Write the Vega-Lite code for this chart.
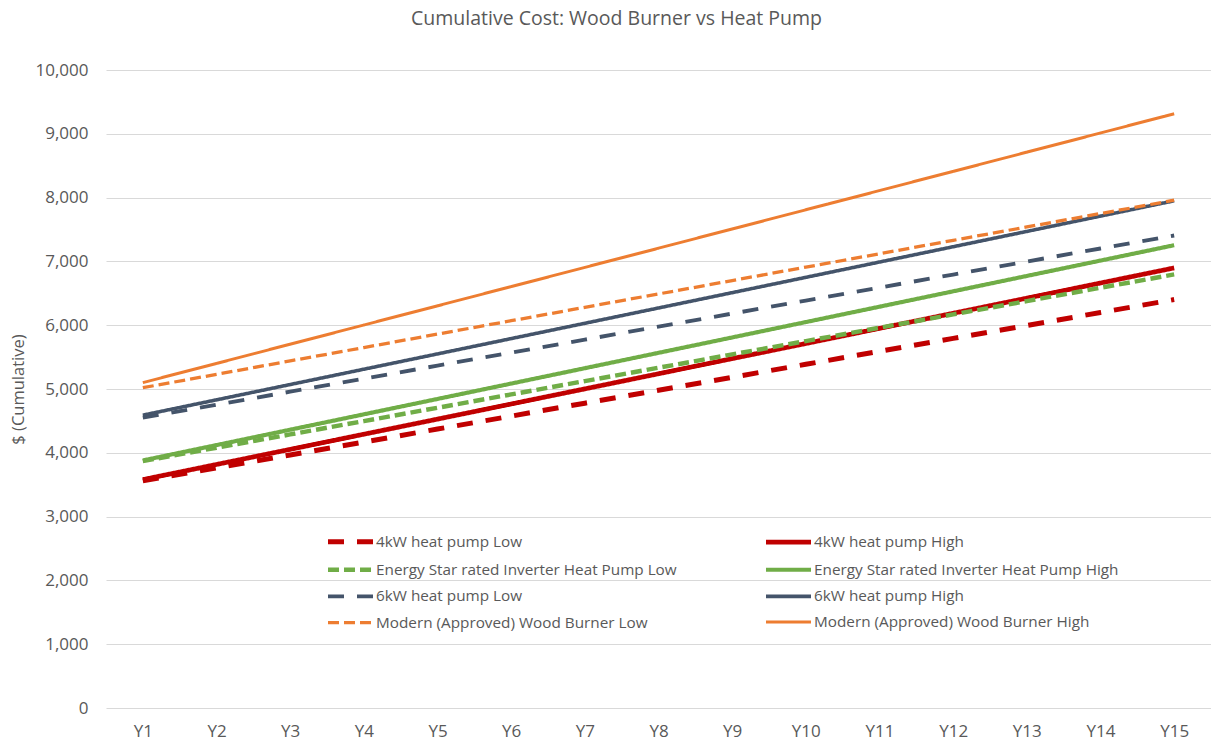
{
  "$schema": "https://vega.github.io/schema/vega-lite/v6.json",
  "autosize": {"type": "none"},
  "width": 1105,
  "height": 638,
  "padding": {"left": 106, "top": 70, "right": 0, "bottom": 38},
  "background": "#FFFFFF",
  "title": {
    "text": "Cumulative Cost: Wood Burner vs Heat Pump",
    "font": "Open Sans",
    "fontSize": 19.5,
    "fontWeight": "normal",
    "color": "#595959",
    "anchor": "middle",
    "baseline": "middle",
    "offset": 23,
    "dx": -42
  },
  "config": {
    "view": {"stroke": null},
    "axis": {
      "labelFont": "Open Sans",
      "labelFontSize": 17,
      "labelColor": "#595959",
      "titleFont": "Open Sans",
      "titleFontSize": 16.5,
      "titleFontWeight": "normal",
      "titleColor": "#595959",
      "domain": false,
      "ticks": false
    },
    "legend": {
      "labelFont": "Open Sans",
      "labelFontSize": 15.3,
      "labelColor": "#595959"
    }
  },
  "data": {
    "values": [
      {"s": "4kW heat pump  Low", "y": "Y1", "v": 3560},
      {"s": "4kW heat pump  Low", "y": "Y2", "v": 3763},
      {"s": "4kW heat pump  Low", "y": "Y3", "v": 3966},
      {"s": "4kW heat pump  Low", "y": "Y4", "v": 4169},
      {"s": "4kW heat pump  Low", "y": "Y5", "v": 4372},
      {"s": "4kW heat pump  Low", "y": "Y6", "v": 4575},
      {"s": "4kW heat pump  Low", "y": "Y7", "v": 4778},
      {"s": "4kW heat pump  Low", "y": "Y8", "v": 4981},
      {"s": "4kW heat pump  Low", "y": "Y9", "v": 5184},
      {"s": "4kW heat pump  Low", "y": "Y10", "v": 5387},
      {"s": "4kW heat pump  Low", "y": "Y11", "v": 5590},
      {"s": "4kW heat pump  Low", "y": "Y12", "v": 5793},
      {"s": "4kW heat pump  Low", "y": "Y13", "v": 5996},
      {"s": "4kW heat pump  Low", "y": "Y14", "v": 6199},
      {"s": "4kW heat pump  Low", "y": "Y15", "v": 6402},
      {"s": "4kW heat pump  High", "y": "Y1", "v": 3580},
      {"s": "4kW heat pump  High", "y": "Y2", "v": 3817},
      {"s": "4kW heat pump  High", "y": "Y3", "v": 4054},
      {"s": "4kW heat pump  High", "y": "Y4", "v": 4291},
      {"s": "4kW heat pump  High", "y": "Y5", "v": 4528},
      {"s": "4kW heat pump  High", "y": "Y6", "v": 4765},
      {"s": "4kW heat pump  High", "y": "Y7", "v": 5002},
      {"s": "4kW heat pump  High", "y": "Y8", "v": 5239},
      {"s": "4kW heat pump  High", "y": "Y9", "v": 5476},
      {"s": "4kW heat pump  High", "y": "Y10", "v": 5713},
      {"s": "4kW heat pump  High", "y": "Y11", "v": 5950},
      {"s": "4kW heat pump  High", "y": "Y12", "v": 6187},
      {"s": "4kW heat pump  High", "y": "Y13", "v": 6424},
      {"s": "4kW heat pump  High", "y": "Y14", "v": 6661},
      {"s": "4kW heat pump  High", "y": "Y15", "v": 6898},
      {"s": "Energy Star rated Inverter Heat Pump Low", "y": "Y1", "v": 3870},
      {"s": "Energy Star rated Inverter Heat Pump Low", "y": "Y2", "v": 4079},
      {"s": "Energy Star rated Inverter Heat Pump Low", "y": "Y3", "v": 4288},
      {"s": "Energy Star rated Inverter Heat Pump Low", "y": "Y4", "v": 4497},
      {"s": "Energy Star rated Inverter Heat Pump Low", "y": "Y5", "v": 4706},
      {"s": "Energy Star rated Inverter Heat Pump Low", "y": "Y6", "v": 4915},
      {"s": "Energy Star rated Inverter Heat Pump Low", "y": "Y7", "v": 5124},
      {"s": "Energy Star rated Inverter Heat Pump Low", "y": "Y8", "v": 5333},
      {"s": "Energy Star rated Inverter Heat Pump Low", "y": "Y9", "v": 5542},
      {"s": "Energy Star rated Inverter Heat Pump Low", "y": "Y10", "v": 5751},
      {"s": "Energy Star rated Inverter Heat Pump Low", "y": "Y11", "v": 5960},
      {"s": "Energy Star rated Inverter Heat Pump Low", "y": "Y12", "v": 6169},
      {"s": "Energy Star rated Inverter Heat Pump Low", "y": "Y13", "v": 6378},
      {"s": "Energy Star rated Inverter Heat Pump Low", "y": "Y14", "v": 6587},
      {"s": "Energy Star rated Inverter Heat Pump Low", "y": "Y15", "v": 6796},
      {"s": "Energy Star rated Inverter Heat Pump High", "y": "Y1", "v": 3880},
      {"s": "Energy Star rated Inverter Heat Pump High", "y": "Y2", "v": 4121},
      {"s": "Energy Star rated Inverter Heat Pump High", "y": "Y3", "v": 4362},
      {"s": "Energy Star rated Inverter Heat Pump High", "y": "Y4", "v": 4603},
      {"s": "Energy Star rated Inverter Heat Pump High", "y": "Y5", "v": 4844},
      {"s": "Energy Star rated Inverter Heat Pump High", "y": "Y6", "v": 5085},
      {"s": "Energy Star rated Inverter Heat Pump High", "y": "Y7", "v": 5326},
      {"s": "Energy Star rated Inverter Heat Pump High", "y": "Y8", "v": 5567},
      {"s": "Energy Star rated Inverter Heat Pump High", "y": "Y9", "v": 5808},
      {"s": "Energy Star rated Inverter Heat Pump High", "y": "Y10", "v": 6049},
      {"s": "Energy Star rated Inverter Heat Pump High", "y": "Y11", "v": 6290},
      {"s": "Energy Star rated Inverter Heat Pump High", "y": "Y12", "v": 6531},
      {"s": "Energy Star rated Inverter Heat Pump High", "y": "Y13", "v": 6772},
      {"s": "Energy Star rated Inverter Heat Pump High", "y": "Y14", "v": 7013},
      {"s": "Energy Star rated Inverter Heat Pump High", "y": "Y15", "v": 7254},
      {"s": "6kW heat pump Low", "y": "Y1", "v": 4550},
      {"s": "6kW heat pump Low", "y": "Y2", "v": 4754},
      {"s": "6kW heat pump Low", "y": "Y3", "v": 4958},
      {"s": "6kW heat pump Low", "y": "Y4", "v": 5162},
      {"s": "6kW heat pump Low", "y": "Y5", "v": 5366},
      {"s": "6kW heat pump Low", "y": "Y6", "v": 5570},
      {"s": "6kW heat pump Low", "y": "Y7", "v": 5774},
      {"s": "6kW heat pump Low", "y": "Y8", "v": 5978},
      {"s": "6kW heat pump Low", "y": "Y9", "v": 6182},
      {"s": "6kW heat pump Low", "y": "Y10", "v": 6386},
      {"s": "6kW heat pump Low", "y": "Y11", "v": 6590},
      {"s": "6kW heat pump Low", "y": "Y12", "v": 6794},
      {"s": "6kW heat pump Low", "y": "Y13", "v": 6998},
      {"s": "6kW heat pump Low", "y": "Y14", "v": 7202},
      {"s": "6kW heat pump Low", "y": "Y15", "v": 7406},
      {"s": "6kW heat pump High", "y": "Y1", "v": 4590},
      {"s": "6kW heat pump High", "y": "Y2", "v": 4830},
      {"s": "6kW heat pump High", "y": "Y3", "v": 5070},
      {"s": "6kW heat pump High", "y": "Y4", "v": 5310},
      {"s": "6kW heat pump High", "y": "Y5", "v": 5550},
      {"s": "6kW heat pump High", "y": "Y6", "v": 5790},
      {"s": "6kW heat pump High", "y": "Y7", "v": 6030},
      {"s": "6kW heat pump High", "y": "Y8", "v": 6270},
      {"s": "6kW heat pump High", "y": "Y9", "v": 6510},
      {"s": "6kW heat pump High", "y": "Y10", "v": 6750},
      {"s": "6kW heat pump High", "y": "Y11", "v": 6990},
      {"s": "6kW heat pump High", "y": "Y12", "v": 7230},
      {"s": "6kW heat pump High", "y": "Y13", "v": 7470},
      {"s": "6kW heat pump High", "y": "Y14", "v": 7710},
      {"s": "6kW heat pump High", "y": "Y15", "v": 7950},
      {"s": "Modern (Approved) Wood Burner Low", "y": "Y1", "v": 5020},
      {"s": "Modern (Approved) Wood Burner Low", "y": "Y2", "v": 5230},
      {"s": "Modern (Approved) Wood Burner Low", "y": "Y3", "v": 5440},
      {"s": "Modern (Approved) Wood Burner Low", "y": "Y4", "v": 5650},
      {"s": "Modern (Approved) Wood Burner Low", "y": "Y5", "v": 5860},
      {"s": "Modern (Approved) Wood Burner Low", "y": "Y6", "v": 6070},
      {"s": "Modern (Approved) Wood Burner Low", "y": "Y7", "v": 6280},
      {"s": "Modern (Approved) Wood Burner Low", "y": "Y8", "v": 6490},
      {"s": "Modern (Approved) Wood Burner Low", "y": "Y9", "v": 6700},
      {"s": "Modern (Approved) Wood Burner Low", "y": "Y10", "v": 6910},
      {"s": "Modern (Approved) Wood Burner Low", "y": "Y11", "v": 7120},
      {"s": "Modern (Approved) Wood Burner Low", "y": "Y12", "v": 7330},
      {"s": "Modern (Approved) Wood Burner Low", "y": "Y13", "v": 7540},
      {"s": "Modern (Approved) Wood Burner Low", "y": "Y14", "v": 7750},
      {"s": "Modern (Approved) Wood Burner Low", "y": "Y15", "v": 7960},
      {"s": "Modern (Approved) Wood Burner High", "y": "Y1", "v": 5100},
      {"s": "Modern (Approved) Wood Burner High", "y": "Y2", "v": 5401},
      {"s": "Modern (Approved) Wood Burner High", "y": "Y3", "v": 5702},
      {"s": "Modern (Approved) Wood Burner High", "y": "Y4", "v": 6003},
      {"s": "Modern (Approved) Wood Burner High", "y": "Y5", "v": 6304},
      {"s": "Modern (Approved) Wood Burner High", "y": "Y6", "v": 6605},
      {"s": "Modern (Approved) Wood Burner High", "y": "Y7", "v": 6906},
      {"s": "Modern (Approved) Wood Burner High", "y": "Y8", "v": 7207},
      {"s": "Modern (Approved) Wood Burner High", "y": "Y9", "v": 7508},
      {"s": "Modern (Approved) Wood Burner High", "y": "Y10", "v": 7809},
      {"s": "Modern (Approved) Wood Burner High", "y": "Y11", "v": 8110},
      {"s": "Modern (Approved) Wood Burner High", "y": "Y12", "v": 8411},
      {"s": "Modern (Approved) Wood Burner High", "y": "Y13", "v": 8712},
      {"s": "Modern (Approved) Wood Burner High", "y": "Y14", "v": 9013},
      {"s": "Modern (Approved) Wood Burner High", "y": "Y15", "v": 9314}
    ]
  },
  "mark": {"type": "line", "strokeCap": "butt"},
  "encoding": {
    "x": {
      "field": "y",
      "type": "ordinal",
      "sort": ["Y1", "Y2", "Y3", "Y4", "Y5", "Y6", "Y7", "Y8", "Y9", "Y10", "Y11", "Y12", "Y13", "Y14", "Y15"],
      "scale": {"type": "point", "padding": 0.5},
      "axis": {"title": null, "labelAngle": 0, "labelPadding": 15, "grid": false}
    },
    "y": {
      "field": "v",
      "type": "quantitative",
      "scale": {"domain": [0, 10000], "nice": false},
      "axis": {
        "title": "$ (Cumulative)",
        "format": ",.0f",
        "values": [0, 1000, 2000, 3000, 4000, 5000, 6000, 7000, 8000, 9000, 10000],
        "labelPadding": 18,
        "grid": true,
        "gridColor": "#D9D9D9",
        "gridWidth": 1,
        "titleAngle": -90,
        "titleX": -88,
        "titleY": 319,
        "titleAlign": "center",
        "titleBaseline": "middle"
      }
    },
    "order": {"value": null},
    "color": {
      "field": "s",
      "type": "nominal",
      "scale": {
        "domain": ["4kW heat pump  Low", "4kW heat pump  High", "Energy Star rated Inverter Heat Pump Low", "Energy Star rated Inverter Heat Pump High", "6kW heat pump Low", "6kW heat pump High", "Modern (Approved) Wood Burner Low", "Modern (Approved) Wood Burner High"],
        "range": ["#C00000", "#C00000", "#70AD47", "#70AD47", "#44546A", "#44546A", "#ED7D31", "#ED7D31"]
      },
      "legend": {
        "title": null,
        "orient": "none",
        "direction": "horizontal",
        "legendX": 232,
        "legendY": 459,
        "columns": 2,
        "columnPadding": 79,
        "rowPadding": 5.2,
        "padding": 0,
        "symbolType": "M-2.25,0H2.25",
        "symbolSize": 400,
        "labelOffset": 13,
        "labelLimit": 0
      }
    },
    "strokeDash": {
      "field": "s",
      "type": "nominal",
      "scale": {
        "domain": ["4kW heat pump  Low", "4kW heat pump  High", "Energy Star rated Inverter Heat Pump Low", "Energy Star rated Inverter Heat Pump High", "6kW heat pump Low", "6kW heat pump High", "Modern (Approved) Wood Burner Low", "Modern (Approved) Wood Burner High"],
        "range": [[16, 13], [1, 0], [11, 5], [1, 0], [16, 13], [1, 0], [11, 5], [1, 0]]
      }
    },
    "strokeWidth": {
      "field": "s",
      "type": "nominal",
      "scale": {
        "domain": ["4kW heat pump  Low", "4kW heat pump  High", "Energy Star rated Inverter Heat Pump Low", "Energy Star rated Inverter Heat Pump High", "6kW heat pump Low", "6kW heat pump High", "Modern (Approved) Wood Burner Low", "Modern (Approved) Wood Burner High"],
        "range": [5, 3, 4.5, 3, 5, 3, 4.5, 3]
      }
    }
  }
}
